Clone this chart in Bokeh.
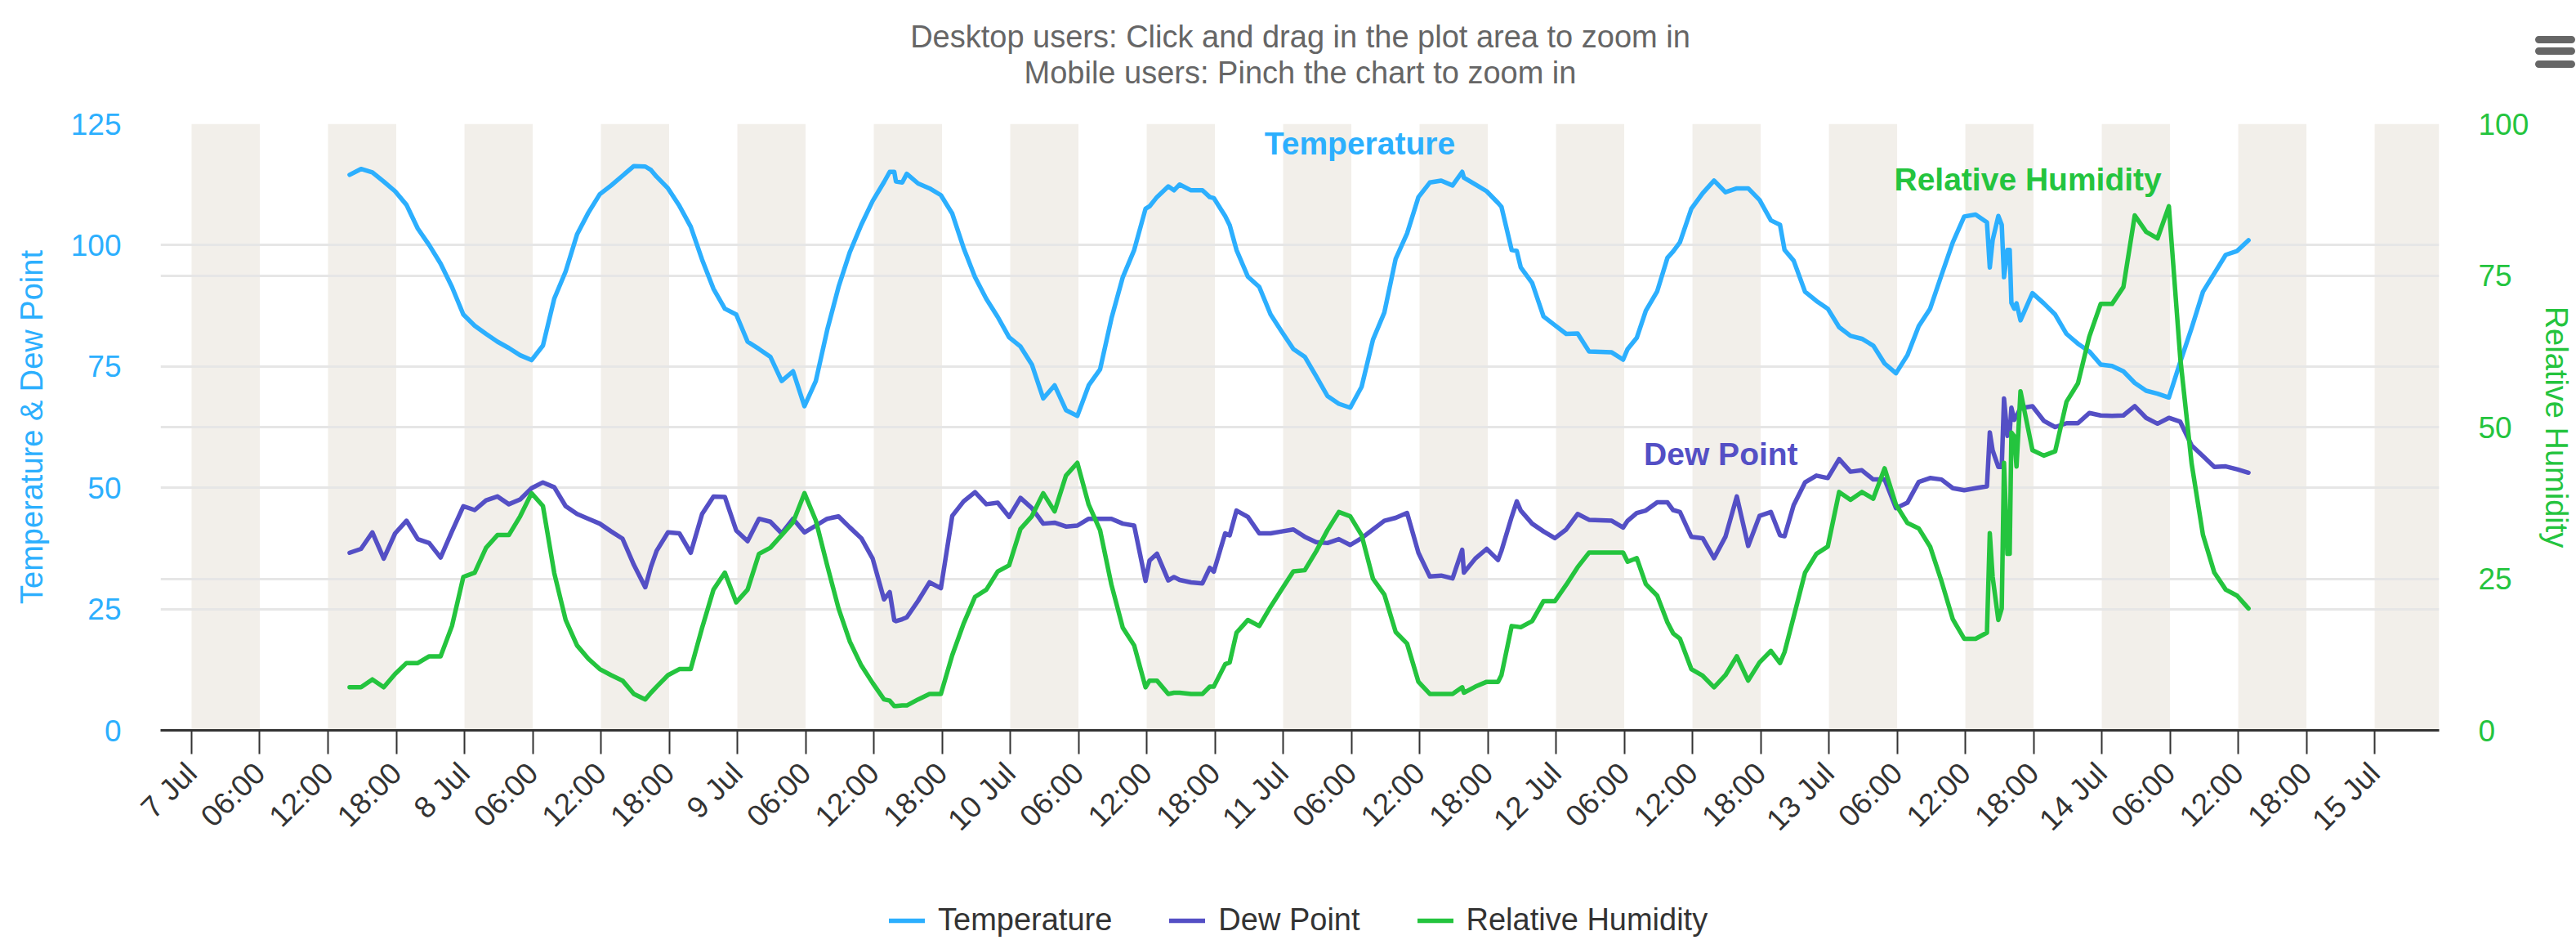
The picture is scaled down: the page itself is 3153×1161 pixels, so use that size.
import math
from bokeh.plotting import figure
from bokeh.layouts import column
from bokeh.models import (Range1d, LinearAxis, FixedTicker, Grid, BoxAnnotation,
                          Label, Legend, LegendItem, ColumnDataSource)
from bokeh.embed import file_html
from bokeh.resources import INLINE

# ---------------- data (hours since 7 Jul 00:00) ----------------
hours = [
    13.9, 14.9, 15.9, 16.9, 17.9, 18.9, 19.9, 20.9, 21.9, 22.9,
    23.9, 24.9, 25.9, 26.9, 27.9, 28.9, 29.9, 30.9, 31.9, 32.9,
    33.9, 34.9, 35.9, 36.9, 37.9, 38.9, 39.9, 40.4, 40.9, 41.9,
    42.9, 43.9, 44.9, 45.9, 46.9, 47.9, 48.9, 49.9, 50.9, 51.9,
    52.9, 53.9, 54.9, 55.9, 56.9, 57.9, 58.9, 59.9, 60.9, 61.4,
    61.8, 61.95, 62.5, 62.9, 63.9, 64.9, 65.9, 66.9, 67.9, 68.9,
    69.9, 70.9, 71.9, 72.9, 73.9, 74.9, 75.9, 76.9, 77.9, 78.9,
    79.9, 80.9, 81.9, 82.9, 83.9, 84.25, 84.9, 85.9, 86.4, 86.9,
    87.9, 88.9, 89.55, 89.9, 90.9, 91.3, 91.9, 92.9, 93.9, 94.9,
    95.9, 96.9, 97.9, 98.9, 99.9, 100.9, 101.9, 102.9, 103.9, 104.9,
    105.9, 106.9, 107.9, 108.9, 109.9, 110.9, 111.75, 111.9, 112.9, 113.9,
    114.9, 115.2, 116.1, 116.55, 116.9, 117.9, 118.9, 119.9, 120.9, 121.9,
    122.9, 123.9, 124.9, 125.9, 126.3, 127.1, 127.9, 128.9, 129.8, 130.3,
    130.9, 131.9, 132.9, 133.9, 134.9, 135.9, 136.9, 137.9, 138.9, 139.7,
    140.1, 140.9, 141.9, 142.9, 143.9, 144.9, 145.9, 146.9, 147.9, 148.9,
    149.9, 150.9, 151.9, 152.9, 153.9, 154.9, 155.9, 156.9, 157.9, 158.15,
    158.4, 158.9, 159.2, 159.4, 159.7, 159.9, 160.05, 160.3, 160.5, 160.85,
    161.9, 162.9, 163.9, 164.9, 165.9, 166.9, 167.9, 168.9, 169.9, 170.9,
    171.9, 172.9, 173.9, 174.9, 175.9, 176.9, 177.9, 178.9, 179.9, 180.9,
]

temperature = [
    114.5, 115.7, 115.0, 113.1, 111.1, 108.3, 103.4, 100.0, 96.2, 91.4,
    85.7, 83.4, 81.7, 80.1, 78.8, 77.3, 76.3, 79.3, 89.0, 94.6,
    102.2, 106.7, 110.5, 112.3, 114.3, 116.3, 116.2, 115.5, 114.1, 111.7,
    108.1, 103.8, 97.0, 91.0, 86.9, 85.7, 80.1, 78.6, 77.0, 72.0,
    74.0, 66.8, 72.0, 82.5, 91.4, 98.6, 104.2, 109.1, 113.0, 115.1,
    115.1, 113.1, 112.9, 114.7, 112.7, 111.7, 110.3, 106.5, 99.4, 93.4,
    88.9, 85.2, 81.0, 79.1, 75.4, 68.4, 71.1, 66.0, 64.8, 71.1,
    74.4, 84.9, 93.4, 99.0, 107.5, 108.0, 109.9, 112.1, 111.3, 112.5,
    111.3, 111.3, 109.9, 109.7, 106.0, 104.1, 99.0, 93.5, 91.4, 85.7,
    82.1, 78.6, 77.0, 73.0, 68.9, 67.3, 66.5, 70.8, 80.5, 86.1,
    97.2, 102.4, 109.9, 112.9, 113.3, 112.3, 115.1, 113.9, 112.5, 111.1,
    108.7, 107.9, 99.0, 98.8, 95.4, 92.2, 85.3, 83.5, 81.7, 81.8,
    78.1, 78.0, 77.9, 76.4, 78.6, 80.9, 86.5, 90.5, 97.4, 98.7,
    100.6, 107.5, 110.7, 113.3, 110.9, 111.7, 111.7, 109.3, 105.1, 104.2,
    99.0, 96.8, 90.4, 88.5, 86.9, 83.1, 81.3, 80.7, 79.3, 75.6,
    73.6, 77.3, 83.3, 86.9, 93.8, 100.6, 105.9, 106.3, 104.7, 95.4,
    101.0, 106.0, 104.2, 93.4, 99.0, 99.0, 88.1, 86.9, 88.0, 84.5,
    90.1, 88.0, 85.7, 81.7, 79.7, 78.1, 75.4, 75.1, 74.0, 71.6,
    70.0, 69.4, 68.6, 75.9, 82.9, 90.4, 94.2, 98.0, 98.8, 101.0,
]

dew_point = [
    36.6, 37.4, 40.8, 35.4, 40.6, 43.2, 39.4, 38.6, 35.6, 41.0,
    46.2, 45.4, 47.4, 48.2, 46.6, 47.6, 49.9, 51.1, 50.1, 46.2,
    44.6, 43.6, 42.6, 41.0, 39.5, 34.1, 29.5, 33.7, 37.0, 40.8,
    40.6, 36.6, 44.6, 48.2, 48.1, 41.2, 39.0, 43.6, 43.0, 40.6,
    43.6, 40.8, 42.2, 43.6, 44.1, 41.8, 39.6, 35.4, 27.0, 28.5,
    22.7, 22.5, 22.9, 23.3, 26.7, 30.5, 29.3, 44.2, 47.2, 49.1,
    46.6, 46.9, 44.0, 47.9, 45.8, 42.6, 42.8, 42.0, 42.2, 43.6,
    43.6, 43.6, 42.6, 42.2, 30.8, 35.0, 36.4, 30.9, 31.6, 31.0,
    30.5, 30.3, 33.5, 32.7, 40.6, 40.2, 45.3, 44.0, 40.6, 40.6,
    41.0, 41.4, 39.9, 38.8, 38.6, 39.4, 38.2, 39.6, 41.4, 43.2,
    43.8, 44.8, 36.6, 31.7, 31.9, 31.3, 37.2, 32.5, 35.4, 37.4,
    35.1, 37.0, 44.0, 47.2, 45.3, 42.6, 41.0, 39.6, 41.4, 44.6,
    43.4, 43.3, 43.2, 41.8, 43.2, 44.8, 45.3, 47.0, 47.0, 45.4,
    45.0, 39.9, 39.6, 35.5, 39.9, 48.2, 38.0, 44.2, 45.0, 40.2,
    40.0, 46.4, 51.1, 52.5, 52.0, 55.9, 53.3, 53.6, 51.7, 51.7,
    45.8, 46.9, 51.2, 52.0, 51.7, 49.9, 49.5, 49.9, 50.3, 61.4,
    57.7, 54.3, 54.3, 68.4, 60.7, 61.5, 66.5, 64.0, 64.8, 66.4,
    66.8, 63.8, 62.5, 63.3, 63.3, 65.4, 64.9, 64.8, 64.9, 66.8,
    64.4, 63.2, 64.4, 63.6, 58.7, 56.5, 54.3, 54.4, 53.8, 53.1,
]

humidity = [
    7.1, 7.1, 8.4, 7.1, 9.3, 11.1, 11.1, 12.2, 12.2, 17.2,
    25.3, 26.0, 30.1, 32.2, 32.2, 35.3, 39.1, 37.0, 25.9, 18.2,
    14.0, 11.8, 10.1, 9.1, 8.2, 6.0, 5.1, 6.2, 7.2, 9.1,
    10.1, 10.1, 16.9, 23.2, 26.0, 21.1, 23.2, 29.1, 30.1, 32.2,
    34.3, 39.1, 34.6, 27.2, 20.1, 14.6, 10.7, 7.8, 5.1, 4.9,
    4.0, 4.0, 4.1, 4.1, 5.1, 6.0, 6.0, 12.4, 17.6, 22.0,
    23.2, 26.2, 27.2, 33.2, 35.3, 39.1, 36.1, 42.0, 44.1, 37.2,
    33.0, 24.0, 16.9, 14.0, 7.1, 8.2, 8.2, 6.0, 6.2, 6.2,
    6.0, 6.0, 7.2, 7.2, 10.9, 11.2, 16.1, 18.2, 17.2, 20.4,
    23.3, 26.2, 26.4, 29.5, 33.0, 36.0, 35.3, 32.2, 25.0, 22.4,
    16.2, 14.3, 8.0, 6.0, 6.0, 6.0, 7.1, 6.2, 7.2, 8.0,
    8.0, 9.1, 17.2, 17.1, 17.0, 18.0, 21.3, 21.3, 24.0, 26.9,
    29.3, 29.3, 29.3, 29.3, 27.8, 28.4, 24.1, 22.2, 17.8, 16.0,
    15.1, 10.1, 9.0, 7.1, 9.1, 12.2, 8.2, 11.2, 13.1, 11.1,
    12.9, 18.7, 26.0, 29.1, 30.3, 39.3, 38.0, 39.3, 38.2, 43.2,
    37.2, 34.2, 33.3, 30.3, 24.6, 18.3, 15.1, 15.1, 16.1, 32.5,
    25.3, 18.2, 20.1, 44.1, 29.1, 29.1, 49.1, 48.5, 43.5, 55.9,
    46.2, 45.3, 46.0, 54.2, 57.2, 64.9, 70.3, 70.3, 73.1, 84.9,
    82.2, 81.1, 86.4, 61.4, 44.0, 32.2, 26.0, 23.2, 22.2, 20.1,
]

tick_hours = [6 * i for i in range(33)]
tick_labels = [
    "7 Jul", "06:00", "12:00", "18:00",
    "8 Jul", "06:00", "12:00", "18:00",
    "9 Jul", "06:00", "12:00", "18:00",
    "10 Jul", "06:00", "12:00", "18:00",
    "11 Jul", "06:00", "12:00", "18:00",
    "12 Jul", "06:00", "12:00", "18:00",
    "13 Jul", "06:00", "12:00", "18:00",
    "14 Jul", "06:00", "12:00", "18:00",
    "15 Jul",
]
band_starts = [12 * i for i in range(17)]   # shaded 6-hour bands
band_length = 6

temp_ticks = [0, 25, 50, 75, 100, 125]
rh_ticks = [0, 25, 50, 75, 100]

series_names = ["Temperature", "Dew Point", "Relative Humidity"]

# ---------------- styling ----------------
C_T = "#2caffe"
C_D = "#544fc5"
C_RH = "#24c43e"
colors = [C_T, C_D, C_RH]
FONT = "Liberation Sans"
TICK_FS = "37px"
TITLE_FS = "38px"
W = 3153
X0, X1 = -2.73, 197.67
TOP_H, MAIN_H, LEG_H = 110, 980, 71
FRAME_LEFT = 196          # plot frames of the stacked figures are aligned


def bare_figure(height, y_range=(0, 1)):
    f = figure(width=W, height=height, output_backend="svg", toolbar_location=None,
               x_axis_location=None, y_axis_location=None,
               x_range=Range1d(0, 1), y_range=Range1d(*y_range),
               min_border=0, min_border_left=0, min_border_right=0,
               min_border_top=0, min_border_bottom=0)
    f.outline_line_color = None
    f.grid.visible = False
    f.background_fill_color = "white"
    f.border_fill_color = "white"
    return f


# ---------------- top strip: subtitle + menu icon ----------------
top = bare_figure(TOP_H, (0, TOP_H))
cx = 1591 - FRAME_LEFT
top.add_layout(Label(x=cx, y=TOP_H - 44, x_units="screen", y_units="screen",
                     text="Desktop users: Click and drag in the plot area to zoom in",
                     text_align="center", text_baseline="middle",
                     text_font=FONT, text_font_size=TITLE_FS, text_color="#666666"))
top.add_layout(Label(x=cx, y=TOP_H - 88, x_units="screen", y_units="screen",
                     text="Mobile users: Pinch the chart to zoom in",
                     text_align="center", text_baseline="middle",
                     text_font=FONT, text_font_size=TITLE_FS, text_color="#666666"))
# menu icon: three thick rounded strokes drawn as ticks of a label-less axis
menu_rows = [TOP_H - 47.5, TOP_H - 62, TOP_H - 77.5]
menu = LinearAxis(ticker=FixedTicker(ticks=menu_rows),
                  major_label_overrides={v: "" for v in menu_rows},
                  major_label_standoff=0, major_label_text_font_size="1px",
                  axis_line_color=None, minor_tick_line_color=None,
                  major_tick_line_color="#666666", major_tick_line_width=9,
                  major_tick_line_cap="round", major_tick_in=-122, major_tick_out=162)
top.add_layout(menu, "right")

# ---------------- main chart ----------------
p = figure(width=W, height=MAIN_H, output_backend="svg", toolbar_location=None,
           x_range=Range1d(X0, X1), y_range=Range1d(0, 125),
           min_border_left=196, min_border_right=166,
           min_border_top=41, min_border_bottom=197)
p.extra_y_ranges = {"rh": Range1d(0, 100)}
p.outline_line_color = None
p.background_fill_color = "white"
p.border_fill_color = "white"

bands = []
for s in band_starts:
    left = max(s, X0)
    right = min(s + band_length, X1)
    if right <= left:
        continue
    bands.append(BoxAnnotation(left=left, right=right, fill_color="#f2efea", fill_alpha=1.0,
                               line_color=None, level="underlay"))
p.center = bands + list(p.center)

p.xgrid.visible = False
p.ygrid.ticker = FixedTicker(ticks=temp_ticks)
p.ygrid.grid_line_color = "#e6e6e6"
p.ygrid.grid_line_width = 3
rgrid = Grid(dimension=1, ticker=FixedTicker(ticks=rh_ticks), y_range_name="rh",
             grid_line_color="#e6e6e6", grid_line_width=3, level="underlay")
p.add_layout(rgrid, "center")

src = ColumnDataSource(dict(h=hours, t=temperature, d=dew_point, rh=humidity))
common = dict(line_width=5.5, line_join="round", line_cap="round")
p.line("h", "t", source=src, line_color=C_T, **common)
p.line("h", "d", source=src, line_color=C_D, **common)
p.line("h", "rh", source=src, line_color=C_RH, y_range_name="rh", **common)

xa = p.xaxis[0]
xa.ticker = FixedTicker(ticks=tick_hours)
xa.major_label_overrides = {float(h): lbl for h, lbl in zip(tick_hours, tick_labels)}
xa.minor_tick_line_color = None
xa.axis_line_color = "#333333"
xa.axis_line_width = 3
xa.major_tick_line_color = "#333333"
xa.major_tick_line_width = 2
xa.major_tick_out = 29
xa.major_tick_in = 0
xa.major_label_orientation = math.pi / 4
xa.major_label_standoff = 17
xa.major_label_text_font = FONT
xa.major_label_text_font_size = TICK_FS
xa.major_label_text_color = "#333333"

ya = p.yaxis[0]
ya.ticker = FixedTicker(ticks=temp_ticks)
ya.axis_line_color = None
ya.major_tick_line_color = None
ya.minor_tick_line_color = None
ya.major_tick_out = 0
ya.major_tick_in = 0
ya.major_label_standoff = 48
ya.major_label_text_font = FONT
ya.major_label_text_font_size = TICK_FS
ya.major_label_text_color = C_T
ya.axis_label = "Temperature & Dew Point"
ya.axis_label_standoff = 24
ya.axis_label_text_font = FONT
ya.axis_label_text_font_size = TITLE_FS
ya.axis_label_text_font_style = "normal"
ya.axis_label_text_color = C_T

ra = LinearAxis(y_range_name="rh", ticker=FixedTicker(ticks=rh_ticks),
                axis_line_color=None, major_tick_line_color=None, minor_tick_line_color=None,
                major_tick_out=0, major_tick_in=0, major_label_standoff=48,
                major_label_text_font=FONT, major_label_text_font_size=TICK_FS,
                major_label_text_color=C_RH,
                axis_label="Relative Humidity", axis_label_standoff=10,
                axis_label_text_font=FONT, axis_label_text_font_size=TITLE_FS,
                axis_label_text_font_style="normal", axis_label_text_color=C_RH)
p.add_layout(ra, "right")

for lx, ly, txt, col in [(102.75, 121.0, "Temperature", C_T),
                         (134.5, 56.9, "Dew Point", C_D),
                         (161.5, 113.5, "Relative Humidity", C_RH)]:
    p.add_layout(Label(x=lx, y=ly, text=txt, text_align="center", text_baseline="middle",
                       text_font=FONT, text_font_size="39px", text_font_style="bold",
                       text_color=col))

# ---------------- legend strip ----------------
# the strip's own view window lies far from the data, so only the legend keys show
leg = bare_figure(LEG_H, (1000, 1001))
leg.x_range = Range1d(X0, X1)
items = []
for name, col, ys in zip(series_names, colors, [temperature, dew_point, humidity]):
    r = leg.line(x=hours, y=ys, line_color=col, **common)
    items.append(LegendItem(label=name, renderers=[r]))
legend = Legend(items=items, orientation="horizontal", location=(1088 - FRAME_LEFT, 14),
                glyph_width=44, glyph_height=40, label_height=40, label_standoff=16,
                spacing=70, padding=0, margin=0, border_line_color=None,
                background_fill_alpha=0, label_text_font=FONT,
                label_text_font_size="38px", label_text_color="#333333")
leg.add_layout(legend, "center")

layout = column(top, p, leg, spacing=0)
open("out.html", "w").write(file_html(layout, INLINE))
